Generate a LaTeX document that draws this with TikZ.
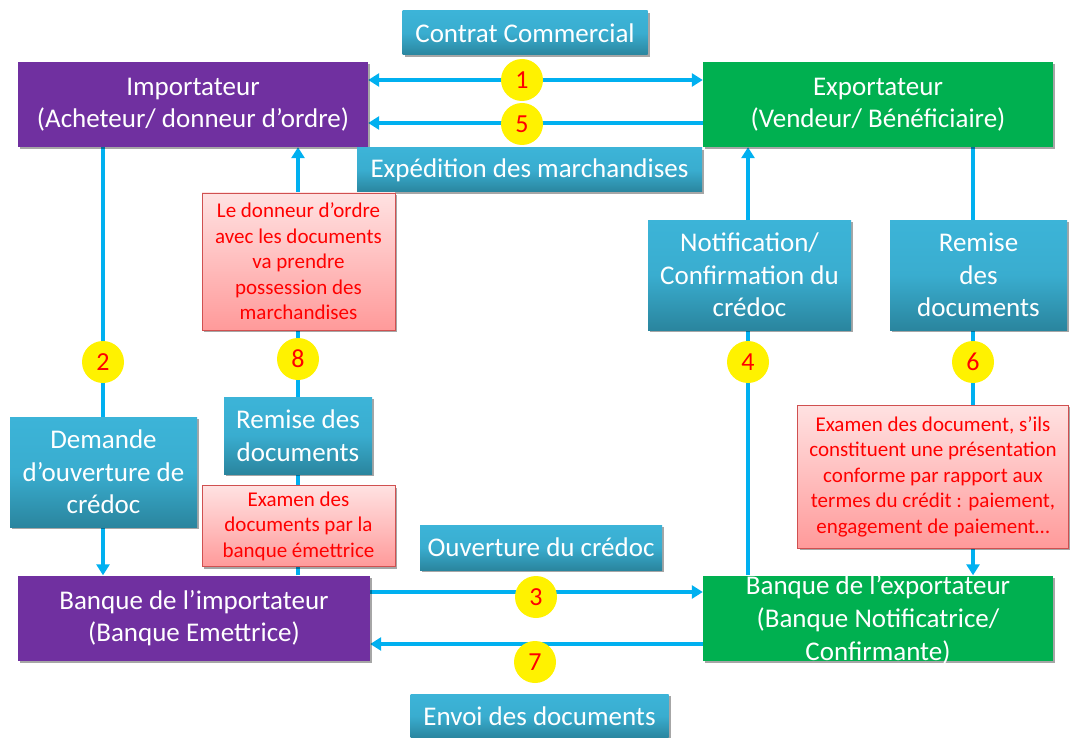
\documentclass[tikz,border=0pt]{standalone}
\usepackage{fontspec}
\setmainfont{Carlito}
\usetikzlibrary{arrows.meta,shadows,backgrounds}
\definecolor{arrc}{HTML}{00B0F0}
\definecolor{purp}{HTML}{7030A0}
\definecolor{grn}{HTML}{00B050}
\definecolor{btop}{HTML}{3CB4D8}
\definecolor{bbot}{HTML}{2A859E}
\definecolor{ptop}{HTML}{FFE2E2}
\definecolor{pbot}{HTML}{FF9A9A}
\definecolor{pbord}{HTML}{D05050}
\tikzset{
  shad/.style={drop shadow={opacity=0.35,shadow xshift=2pt,shadow yshift=-2pt,fill=black}},
  mainbox/.style={minimum width=350pt, minimum height=85pt, inner sep=0pt, text=white, align=center, font=\fontsize{27}{32}\selectfont, shad},
  impbox/.style={mainbox, fill=purp},
  expbox/.style={mainbox, fill=grn},
  wtext/.style={inner sep=0pt, text=white, align=center, font=\fontsize{27}{33}\selectfont},
  bluebox/.style={inner sep=0pt, text=white, align=center, top color=btop, bottom color=bbot, middle color=btop!85!bbot, font=\fontsize{27}{32.5}\selectfont, shad},
  pinkbox/.style={inner sep=0pt, text=red, align=center, top color=ptop, bottom color=pbot, draw=pbord, line width=0.8pt, font=\fontsize{21}{25.5}\selectfont, shad},
  num/.style={circle, fill=yellow, minimum size=42pt, inner sep=0pt, text=red, font=\fontsize{26}{26}\selectfont},
  arr/.style={draw=arrc, line width=3.5pt, -{Triangle[length=11pt,width=13pt]}},
  darr/.style={draw=arrc, line width=3.5pt, {Triangle[length=11pt,width=13pt]}-{Triangle[length=11pt,width=13pt]}}
}
\begin{document}
\begin{tikzpicture}[x=1pt,y=-1pt]
\useasboundingbox (0,0) rectangle (1070,738);
% main boxes
\node[impbox] (imp) at (193,104.5) {Importateur\\(Acheteur/ donneur d’ordre)};
\node[expbox] (exp) at (878,104.5) {Exportateur\\(Vendeur/ Bénéficiaire)};
\node[impbox, minimum width=352pt, minimum height=85pt] (bimp) at (194,618) {Banque de l’importateur\\(Banque Emettrice)};
\node[expbox, minimum height=85pt] (bexp) at (878,618) {};
\node[wtext] (bexptxt) at (878,619.5) {Banque de l’exportateur\\(Banque Notificatrice/\\Confirmante)};
% labels
\node[bluebox, minimum width=245pt, minimum height=44pt] (contrat) at (525,33) {Contrat Commercial};
\node[bluebox, minimum width=345pt, minimum height=44pt] (exped) at (529.5,170) {Expédition des marchandises};
\node[bluebox, minimum width=187pt, minimum height=110pt] (dem) at (103.5,472) {Demande\\d’ouverture de\\crédoc};
\node[bluebox, minimum width=148pt, minimum height=77pt] (rem1) at (298,435.5) {Remise des\\documents};
\node[bluebox, minimum width=203pt, minimum height=110pt] (notif) at (749.5,275) {Notification/\\Confirmation du\\crédoc};
\node[bluebox, minimum width=177pt, minimum height=110pt] (rem2) at (978.5,275) {Remise\\des\\documents};
\node[bluebox, minimum width=242pt, minimum height=45pt] (ouv) at (541,547.5) {Ouverture du crédoc};
\node[bluebox, minimum width=258pt, minimum height=44pt] (envoi) at (539.5,716) {Envoi des documents};
\node[pinkbox, minimum width=193pt, minimum height=137pt] (pk1) at (298.5,261.5) {Le donneur d’ordre\\avec les documents\\va prendre\\possession des\\marchandises};
\node[pinkbox, minimum width=193pt, minimum height=81pt] (pk2) at (298.5,526) {Examen des\\documents par la\\banque émettrice};
\node[pinkbox, minimum width=271pt, minimum height=143pt] (pk3) at (933,476.5) {Examen des document, s’ils\\constituent une présentation\\conforme par rapport aux\\termes du crédit : paiement,\\engagement de paiement…};
% numbers
\node[num] (c1) at (522,80) {1};
\node[num] (c5) at (522,124) {5};
\node[num] (c2) at (103,362) {2};
\node[num] (c8) at (298,359) {8};
\node[num] (c4) at (748,362) {4};
\node[num] (c6) at (973,362) {6};
\node[num] (c3) at (536,597) {3};
\node[num] (c7) at (535,662) {7};
% connectors
\begin{pgfonlayer}{background}
\fill[white] (0,0) rectangle (1070,738);
\draw[darr] (imp.east |- c1) -- (exp.west |- c1);
\draw[arr] (exp.west |- 0,123) -- (imp.east |- 0,123);
\draw[arr] (imp.south -| c2) -- (bimp.north -| c2);
\draw[arr] (bimp.north -| c8) -- (imp.south -| c8);
\draw[arr] (bexp.north -| c4) -- (exp.south -| c4);
\draw[arr] (exp.south -| c6) -- (bexp.north -| c6);
\draw[arr] (bimp.east |- 0,592) -- (bexp.west |- 0,592);
\draw[arr] (bexp.west |- 0,644) -- (bimp.east |- 0,644);
\end{pgfonlayer}
\end{tikzpicture}
\end{document}
